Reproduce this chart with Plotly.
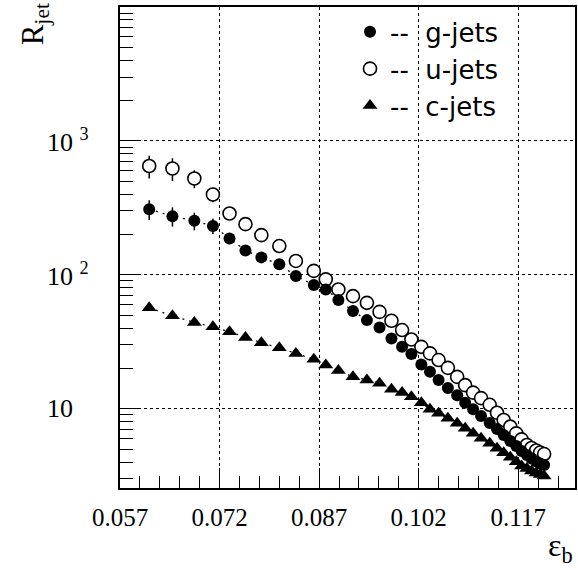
import plotly.graph_objects as go
import numpy as np

# b-tagging efficiency working points
eff_b = [0.0614, 0.0649, 0.0682, 0.0710, 0.0735, 0.0759, 0.0783, 0.0810, 0.0835,
         0.0862, 0.0880, 0.0899, 0.0921, 0.0942, 0.0961, 0.0979, 0.0995, 0.1009,
         0.1024, 0.1037, 0.1050, 0.1064, 0.1078, 0.1090, 0.1102, 0.1114, 0.1127,
         0.1138, 0.1148, 0.1158, 0.1167, 0.1175, 0.1183, 0.1190, 0.1197, 0.1203,
         0.1209]

# rejection factors per jet flavour
r_gluon = [309, 274, 253, 232, 187, 152, 135, 120, 98, 84, 77.8, 65, 53.6, 45.9,
           40.5, 33.5, 29.0, 25.6, 21.4, 18.9, 16.4, 14.3, 12.6, 11.1, 9.9, 8.83,
           7.82, 7.06, 6.37, 5.74, 5.27, 4.83, 4.51, 4.25, 4.03, 3.90, 3.80]
r_light = [650, 622, 524, 398, 287, 239, 198, 164, 127, 107, 92.5, 77.8, 69.3, 61.8,
           52.9, 45.4, 38.7, 32.9, 29.0, 25.9, 23.1, 20.2, 17.3, 15.0, 13.2, 12.0,
           10.7, 9.34, 8.24, 7.35, 6.55, 5.91, 5.36, 5.09, 4.88, 4.71, 4.59]
r_charm = [56.7, 49.4, 44.1, 40.9, 37.6, 34.1, 31.1, 28.5, 25.9, 23.4, 21.2, 19.3,
           17.3, 16.4, 15.5, 14.0, 13.2, 12.3, 11.1, 9.9, 9.25, 8.48, 7.78, 7.14,
           6.55, 6.01, 5.52, 5.06, 4.70, 4.34, 4.02, 3.73, 3.58, 3.43, 3.31, 3.23, 3.15]

# statistical uncertainties
err_gluon = [52, 45, 38, 30, 15, 10, 8, 6, 4, 3, 3, 2, 2, 1.5, 1.5, 1, 1, 0.8, 0.7,
             0.6, 0.5, 0.4, 0.4, 0.3, 0.3, 0.3, 0.2, 0.2, 0.2, 0.2, 0.2, 0.15, 0.15,
             0.15, 0.1, 0.1, 0.1]
err_light = [125, 120, 80, 50, 25, 16, 12, 8, 5, 4, 3, 2.5, 2, 1.6, 1.3, 1, 0.8,
             0.7, 0.6, 0.5, 0.4, 0.4, 0.3, 0.3, 0.3, 0.2, 0.2, 0.2, 0.2, 0.15, 0.15,
             0.15, 0.1, 0.1, 0.1, 0.1, 0.1]
err_charm = [3, 2.5, 2, 1.8, 1.5, 1.2, 1, 0.9, 0.8, 0.7, 0.6, 0.5, 0.5, 0.4, 0.4,
             0.3, 0.3, 0.3, 0.3, 0.2, 0.2, 0.2, 0.2, 0.2, 0.15, 0.15, 0.15, 0.1, 0.1,
             0.1, 0.1, 0.1, 0.1, 0.1, 0.1, 0.1, 0.1]

# axis ticks
x_ticks = [0.057, 0.072, 0.087, 0.102, 0.117]
x_tick_labels = ["0.057", "0.072", "0.087", "0.102", "0.117"]
x_minor = [0.060, 0.063, 0.066, 0.069, 0.075, 0.078, 0.081, 0.084, 0.090, 0.093,
           0.096, 0.099, 0.105, 0.108, 0.111, 0.114, 0.120, 0.123]
y_ticks = [10, 100, 1000]
y_tick_labels = ["10", "10 <sup>2</sup>", "10 <sup>3</sup>"]
y_minor = [3, 4, 5, 6, 7, 8, 9, 20, 30, 40, 50, 60, 70, 80, 90,
           200, 300, 400, 500, 600, 700, 800, 900,
           2000, 3000, 4000, 5000, 6000, 7000, 8000, 9000]

legend_labels = ["--\u00a0 g-jets", "--\u00a0 u-jets", "--\u00a0 c-jets"]

SERIF = "Liberation Serif, Times New Roman, serif"
SANS = "DejaVu Sans, sans-serif"

fig = go.Figure()

# dotted guides through the gluon and charm points
for ys in (r_gluon, r_charm):
    fig.add_trace(go.Scatter(x=eff_b, y=ys, mode="lines", showlegend=False,
                             hoverinfo="skip",
                             line=dict(color="black", width=1.3, dash="2px,5px")))

# light jets: hollow circles (white inside so the bar does not cross the marker)
fig.add_trace(go.Scatter(
    x=eff_b, y=r_light, mode="markers", name=legend_labels[1], legendrank=2,
    marker=dict(symbol="circle", size=13, color="white",
                line=dict(width=1.6, color="black")),
    error_y=dict(type="data", array=err_light, width=0, thickness=1.5, color="black")))
fig.add_trace(go.Scatter(
    x=eff_b, y=r_gluon, mode="markers", name=legend_labels[0], legendrank=1,
    marker=dict(symbol="circle", size=12, color="black"),
    error_y=dict(type="data", array=err_gluon, width=0, thickness=1.5, color="black")))
fig.add_trace(go.Scatter(
    x=eff_b, y=r_charm, mode="markers", name=legend_labels[2], legendrank=3,
    marker=dict(symbol="triangle-up", size=13, color="black"),
    error_y=dict(type="data", array=err_charm, width=0, thickness=1.5, color="black")))

axis_common = dict(
    showline=True, linewidth=2, linecolor="black", mirror=True,
    ticks="inside", ticklen=20, tickwidth=1, tickcolor="black",
    showgrid=True, gridcolor="black", gridwidth=1, griddash="3px,3px",
    zeroline=False,
)

fig.update_xaxes(
    range=[0.057, 0.12555], tickmode="array", tickvals=x_ticks, ticktext=x_tick_labels,
    tickfont=dict(family=SERIF, size=25, color="black"), ticklabelstandoff=6,
    minor=dict(tickmode="array", tickvals=x_minor, ticks="inside", ticklen=12,
               tickwidth=1, tickcolor="black", showgrid=False),
    **axis_common)

fig.update_yaxes(
    type="log", range=[np.log10(2.56), 4], tickmode="array", tickvals=y_ticks,
    showticklabels=False,
    minor=dict(tickmode="array", tickvals=y_minor, ticks="inside", ticklen=13,
               tickwidth=1, tickcolor="black", showgrid=False),
    **axis_common)

annotations = []
# y tick labels, left aligned in the ROOT style
for v, lab in zip(y_ticks, y_tick_labels):
    annotations.append(dict(x=-0.164, xref="paper", y=np.log10(v), yref="y",
                            text=lab, showarrow=False, xanchor="left", yanchor="middle",
                            font=dict(family=SERIF, size=26, color="black")))
# axis titles
annotations.append(dict(x=-0.236, xref="paper", y=1.011, yref="paper",
                        text="R<sub>jet</sub>", textangle=-90, showarrow=False,
                        xanchor="left", yanchor="top",
                        font=dict(family=SERIF, size=31, color="black")))
annotations.append(dict(x=1.0, xref="paper", y=-0.17, yref="paper",
                        text="ε<sub>b</sub>", showarrow=False,
                        xanchor="right", yanchor="bottom",
                        font=dict(family=SERIF, size=32, color="black")))

fig.update_layout(
    width=578, height=570,
    margin=dict(l=120, r=1, t=7, b=82),
    plot_bgcolor="white", paper_bgcolor="white",
    annotations=annotations,
    showlegend=True,
    legend=dict(x=0.5055, y=0.997, xanchor="left", yanchor="top",
                bgcolor="rgba(0,0,0,0)", borderwidth=0, tracegroupgap=0,
                font=dict(family=SANS, size=26, color="black"),
                itemsizing="trace"),
)

fig.write_html("out.html")
